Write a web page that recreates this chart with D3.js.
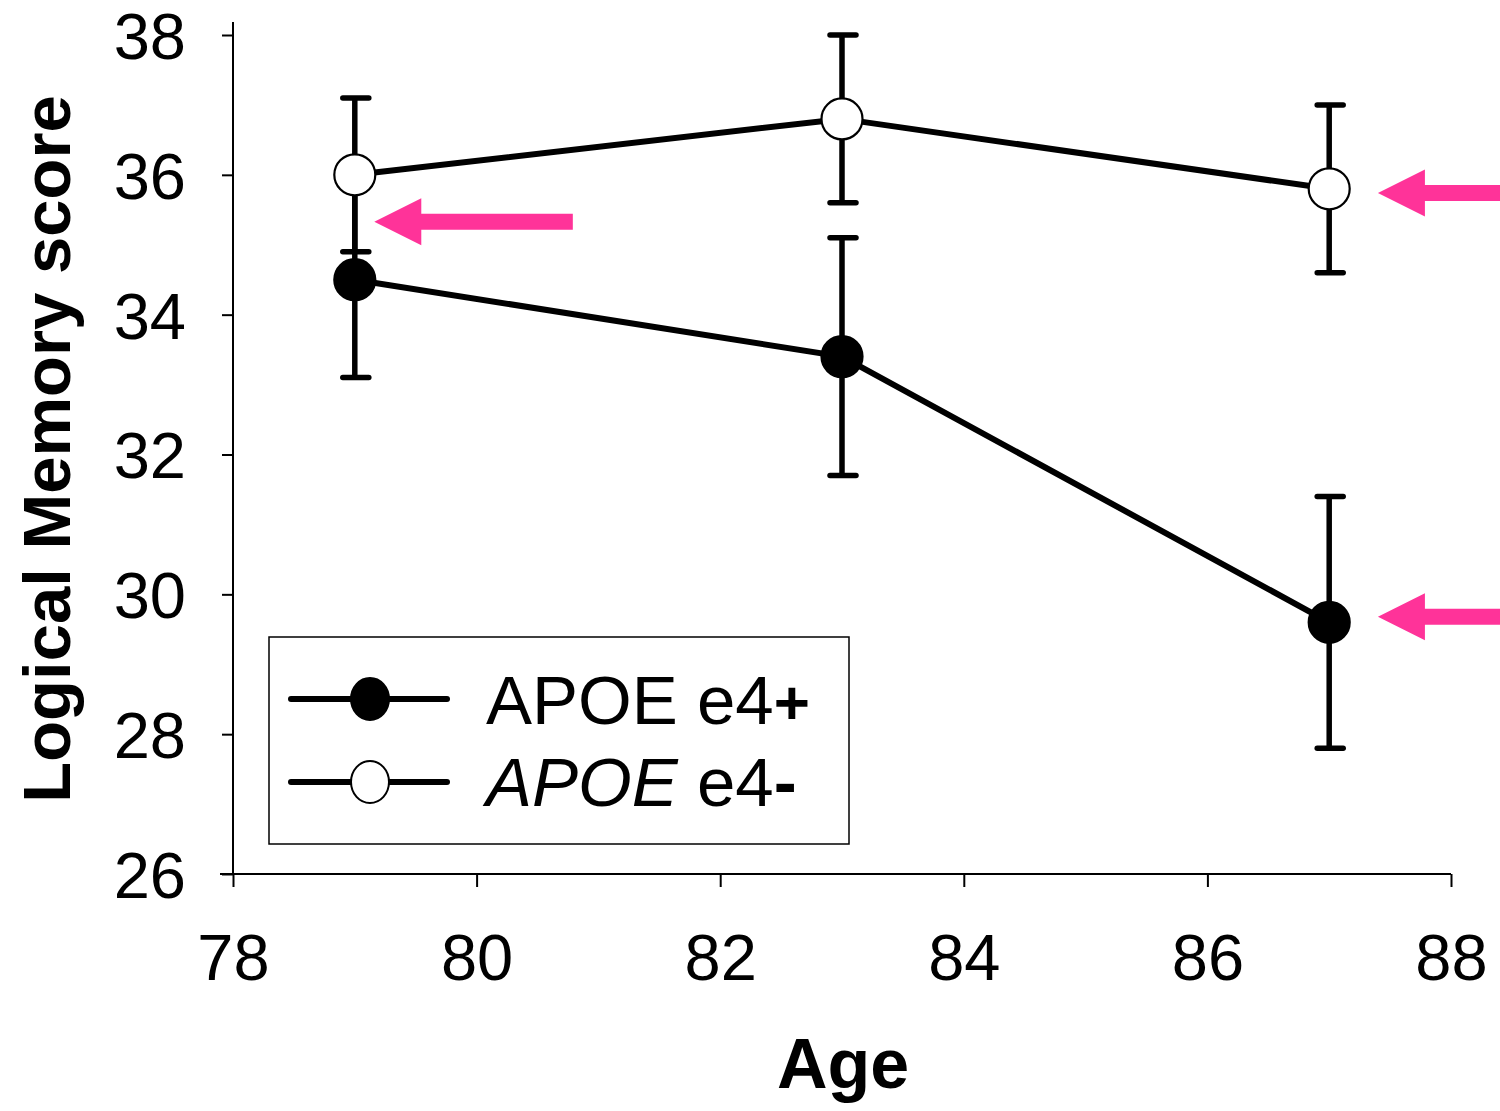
<!DOCTYPE html>
<html>
<head>
<meta charset="utf-8">
<script src="https://cdn.jsdelivr.net/npm/d3@7"></script>
<style>
  html, body { margin: 0; padding: 0; background: #fff; }
  svg { display: block; font-family: "Liberation Sans", Arial, sans-serif; }
</style>
</head>
<body>
<svg id="chart" width="1500" height="1111"></svg>
<script>
// ---- data ----
const ages = [79, 83, 87];
const e4PlusMean = [34.5, 33.4, 29.6];
const e4PlusErr = [1.4, 1.7, 1.8];
const e4MinusMean = [36.0, 36.8, 35.8];
const e4MinusErr = [1.1, 1.2, 1.2];
const xTicks = [78, 80, 82, 84, 86, 88];
const yTicks = [26, 28, 30, 32, 34, 36, 38];
// pink arrows: tip (age, score) and tail age
const arrowTipAge = [79.16, 87.40, 87.40];
const arrowTipScore = [35.33, 35.74, 29.68];
const arrowTailAge = [80.79, 88.45, 88.45];

const svg = d3.select("#chart");
const x = d3.scaleLinear().domain([78, 88]).range([233, 1451]);
const y = d3.scaleLinear().domain([26, 38]).range([874, 35]);

// axes
const xAxis = d3.axisBottom(x).tickValues(xTicks).tickSize(13).tickSizeOuter(0).tickPadding(0);
const gx = svg.append("g").attr("transform", "translate(0,874)").call(xAxis);
gx.select(".domain").remove();
gx.append("line").attr("x1", 220).attr("x2", 1451).attr("y1", 0).attr("y2", 0)
  .attr("stroke", "#000").attr("stroke-width", 2);
gx.selectAll(".tick line").attr("stroke", "#000").attr("stroke-width", 2);
gx.selectAll(".tick text").attr("font-size", 65).attr("fill", "#000")
  .attr("dy", null).attr("y", 106);

const yAxis = d3.axisLeft(y).tickValues(yTicks).tickSize(11).tickSizeOuter(0).tickPadding(0);
const gy = svg.append("g").attr("transform", "translate(233,0)").call(yAxis);
gy.select(".domain").remove();
gy.append("line").attr("x1", 0).attr("x2", 0).attr("y1", 22).attr("y2", 874)
  .attr("stroke", "#000").attr("stroke-width", 2);
gy.selectAll(".tick line").attr("stroke", "#000").attr("stroke-width", 2);
gy.selectAll(".tick text").attr("font-size", 65).attr("fill", "#000")
  .attr("x", -47).attr("dy", "0.36em");

// axis titles
svg.append("text").attr("x", 843).attr("y", 1088).attr("text-anchor", "middle")
  .attr("font-size", 70).attr("font-weight", "bold").text("Age");
svg.append("text").attr("transform", "translate(70,449) rotate(-90)")
  .attr("text-anchor", "middle").attr("font-size", 67).attr("font-weight", "bold")
  .text("Logical Memory score");

// series
const series = [
  { mean: e4PlusMean, err: e4PlusErr, fill: "#000" },
  { mean: e4MinusMean, err: e4MinusErr, fill: "#fff" }
];

// error bars
series.forEach(s => {
  const g = svg.append("g");
  ages.forEach((a, i) => {
    const cx = x(a);
    const lo = y(s.mean[i] - s.err[i]), hi = y(s.mean[i] + s.err[i]);
    g.append("line").attr("x1", cx).attr("x2", cx).attr("y1", lo).attr("y2", hi)
      .attr("stroke", "#000").attr("stroke-width", 5.5);
    [lo, hi].forEach(yy => g.append("line")
      .attr("x1", cx - 12).attr("x2", cx + 14).attr("y1", yy).attr("y2", yy)
      .attr("stroke", "#000").attr("stroke-width", 5.5).attr("stroke-linecap", "round"));
  });
});

// lines
const line = d3.line().x((d, i) => x(ages[i])).y(d => y(d));
series.forEach(s => {
  svg.append("path").datum(s.mean).attr("d", line).attr("fill", "none")
    .attr("stroke", "#000").attr("stroke-width", 6);
});

// markers
series.forEach(s => {
  svg.append("g").selectAll("circle").data(s.mean).join("circle")
    .attr("cx", (d, i) => x(ages[i])).attr("cy", d => y(d)).attr("r", 20.5)
    .attr("fill", s.fill).attr("stroke", "#000").attr("stroke-width", 2.2);
});

// pink arrows
const pink = "#ff3399";
arrowTipAge.forEach((a, i) => {
  const tx = x(a), ty = y(arrowTipScore[i]), tail = x(arrowTailAge[i]);
  const headLen = 47, headHalf = 23.5, shaftHalf = 8;
  const pts = [
    [tx, ty], [tx + headLen, ty - headHalf], [tx + headLen, ty - shaftHalf],
    [tail, ty - shaftHalf], [tail, ty + shaftHalf], [tx + headLen, ty + shaftHalf],
    [tx + headLen, ty + headHalf]
  ];
  svg.append("polygon").attr("points", pts.map(p => p.join(",")).join(" ")).attr("fill", pink);
});

// legend
const lg = svg.append("g");
lg.append("rect").attr("x", 269).attr("y", 637).attr("width", 580).attr("height", 207)
  .attr("fill", "#fff").attr("stroke", "#000").attr("stroke-width", 1.5);
const legendRows = [
  { fill: "#000", cy: 699 },
  { fill: "#fff", cy: 782 }
];
legendRows.forEach(r => {
  lg.append("line").attr("x1", 291).attr("x2", 447).attr("y1", r.cy).attr("y2", r.cy)
    .attr("stroke", "#000").attr("stroke-width", 6).attr("stroke-linecap", "round");
  lg.append("ellipse").attr("cx", 370).attr("cy", r.cy).attr("rx", 19).attr("ry", 21)
    .attr("fill", r.fill).attr("stroke", "#000").attr("stroke-width", 2);
});
const t1 = lg.append("text").attr("x", 486).attr("y", 724).attr("font-size", 69);
t1.append("tspan").text("APOE e4");
t1.append("tspan").attr("font-weight", "bold").attr("font-size", 62).text("+");
const t2 = lg.append("text").attr("x", 486).attr("y", 806).attr("font-size", 69);
t2.append("tspan").attr("font-style", "italic").text("APOE");
t2.append("tspan").text(" e4");
t2.append("tspan").attr("font-weight", "bold").text("-");
</script>
</body>
</html>
